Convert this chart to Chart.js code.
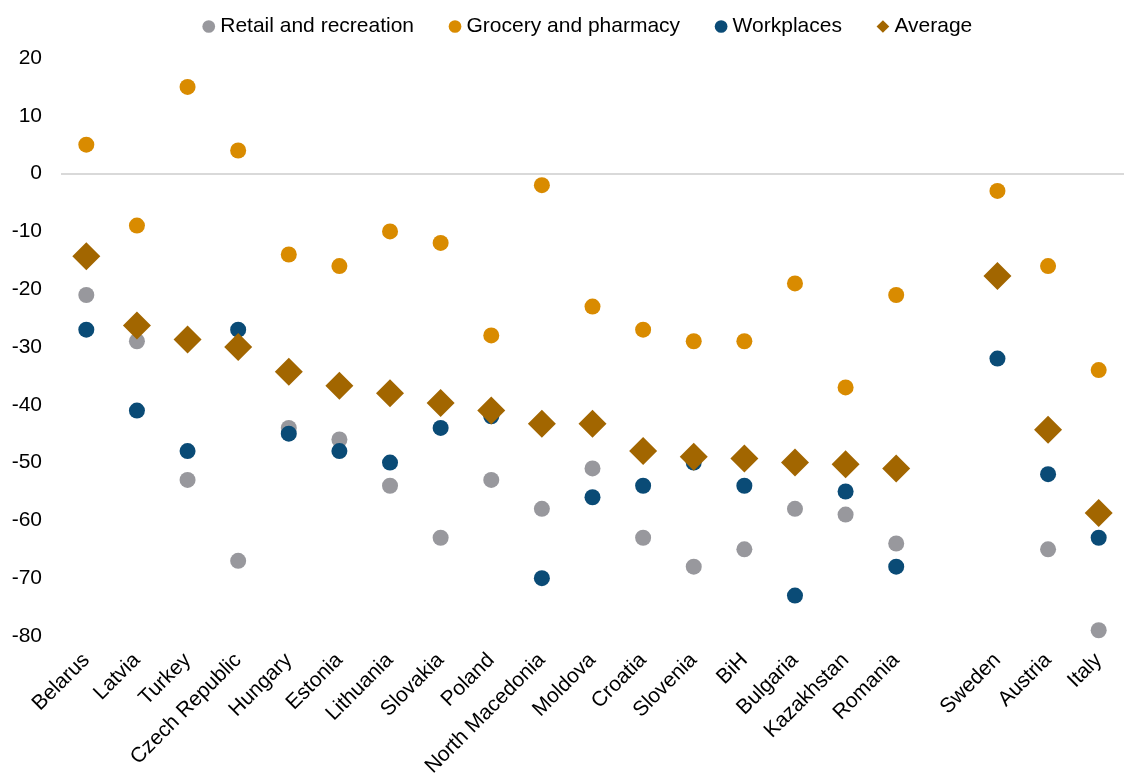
<!DOCTYPE html>
<html>
<head>
<meta charset="utf-8">
<script src="https://cdn.jsdelivr.net/npm/chart.js@4/dist/chart.umd.min.js"></script>
<style>
  html, body { margin: 0; padding: 0; background: #fff; overflow: hidden; }
  #wrap { width: 1124px; height: 775px; overflow: hidden; position: relative; }
  #box { width: 1138px; height: 775px; position: absolute; left: 0; top: 0; }
</style>
</head>
<body>
<div id="wrap"><div id="box"><canvas id="c"></canvas></div></div>
<script>
const categories = ["Belarus", "Latvia", "Turkey", "Czech Republic", "Hungary", "Estonia", "Lithuania", "Slovakia", "Poland", "North Macedonia", "Moldova", "Croatia", "Slovenia", "BiH", "Bulgaria", "Kazakhstan", "Romania", "", "Sweden", "Austria", "Italy"];
const retail    = [-21, -29, -53, -67, -44, -46, -54, -63, -53, -58, -51, -63, -68, -65, -58, -59, -64, null, -18, -65, -79];
const grocery   = [5, -9, 15, 4, -14, -16, -10, -12, -28, -2, -23, -27, -29, -29, -19, -37, -21, null, -3, -16, -34];
const workplaces= [-27, -41, -48, -27, -45, -48, -50, -44, -42, -70, -56, -54, -50, -54, -73, -55, -68, null, -32, -52, -63];
const average   = [-14.3, -26.3, -28.7, -30, -34.3, -36.7, -38, -39.7, -41, -43.3, -43.3, -48, -49, -49.3, -50, -50.3, -51, null, -17.7, -44.3, -58.7];
const yTicks    = [20, 10, 0, -10, -20, -30, -40, -50, -60, -70, -80];

const FONT = "'Liberation Sans', Arial, sans-serif";
const LEGEND_PAD = 40;

function ds(label, data, color, style, radius) {
  return {
    label, data, type: 'line', showLine: false,
    pointStyle: style, pointRadius: radius, pointHoverRadius: radius,
    backgroundColor: color, borderColor: color, pointBorderWidth: 0,
    clip: false
  };
}

const legendPlacement = {
  id: 'legendPlacement',
  beforeLayout(chart) {
    const lg = chart.legend;
    if (lg && !lg._patched) {
      const f = lg.fit;
      lg.fit = function () { f.call(this); this.height = 58; };
      lg._patched = true;
    }
  },
  afterLayout(chart) {
    const lg = chart.legend;
    if (lg) {
      lg.left = 42;
      lg.top = 26.5 - LEGEND_PAD - 10.5;
    }
  }
};

new Chart(document.getElementById('c'), {
  type: 'line',
  data: {
    labels: categories,
    datasets: [
      ds('Average', average, '#a26600', 'rectRot', 14),
      ds('Workplaces', workplaces, '#0a4b76', 'circle', 8),
      ds('Grocery and pharmacy', grocery, '#d98b00', 'circle', 8),
      ds('Retail and recreation', retail, '#98989d', 'circle', 8)
    ]
  },
  plugins: [legendPlacement],
  options: {
    responsive: true,
    maintainAspectRatio: false,
    animation: false,
    layout: { padding: 0 },
    plugins: {
      legend: {
        position: 'top',
        reverse: true,
        labels: {
          usePointStyle: true,
          boxHeight: 9,
          boxWidth: 2,
          padding: LEGEND_PAD,
          color: '#000',
          font: { family: FONT, size: 21 }
        }
      },
      tooltip: { enabled: false }
    },
    scales: {
      x: {
        type: 'category',
        offset: true,
        grid: { display: false, drawTicks: false },
        border: { display: false },
        afterFit: s => { s.height = 139; },
        ticks: {
          autoSkip: false,
          maxRotation: 45, minRotation: 45,
          padding: 12,
          color: '#000',
          font: { family: FONT, size: 21 }
        }
      },
      y: {
        min: -80, max: 20,
        afterFit: s => { s.width = 61; },
        afterBuildTicks: s => { s.ticks = yTicks.map(v => ({ value: v })); },
        grid: {
          drawTicks: false,
          lineWidth: 2,
          color: c => (c.tick && c.tick.value === 0) ? '#d9d9d9' : 'rgba(0,0,0,0)'
        },
        border: { display: false },
        ticks: {
          padding: 19,
          color: '#000',
          font: { family: FONT, size: 21 }
        }
      }
    }
  }
});
</script>
</body>
</html>
